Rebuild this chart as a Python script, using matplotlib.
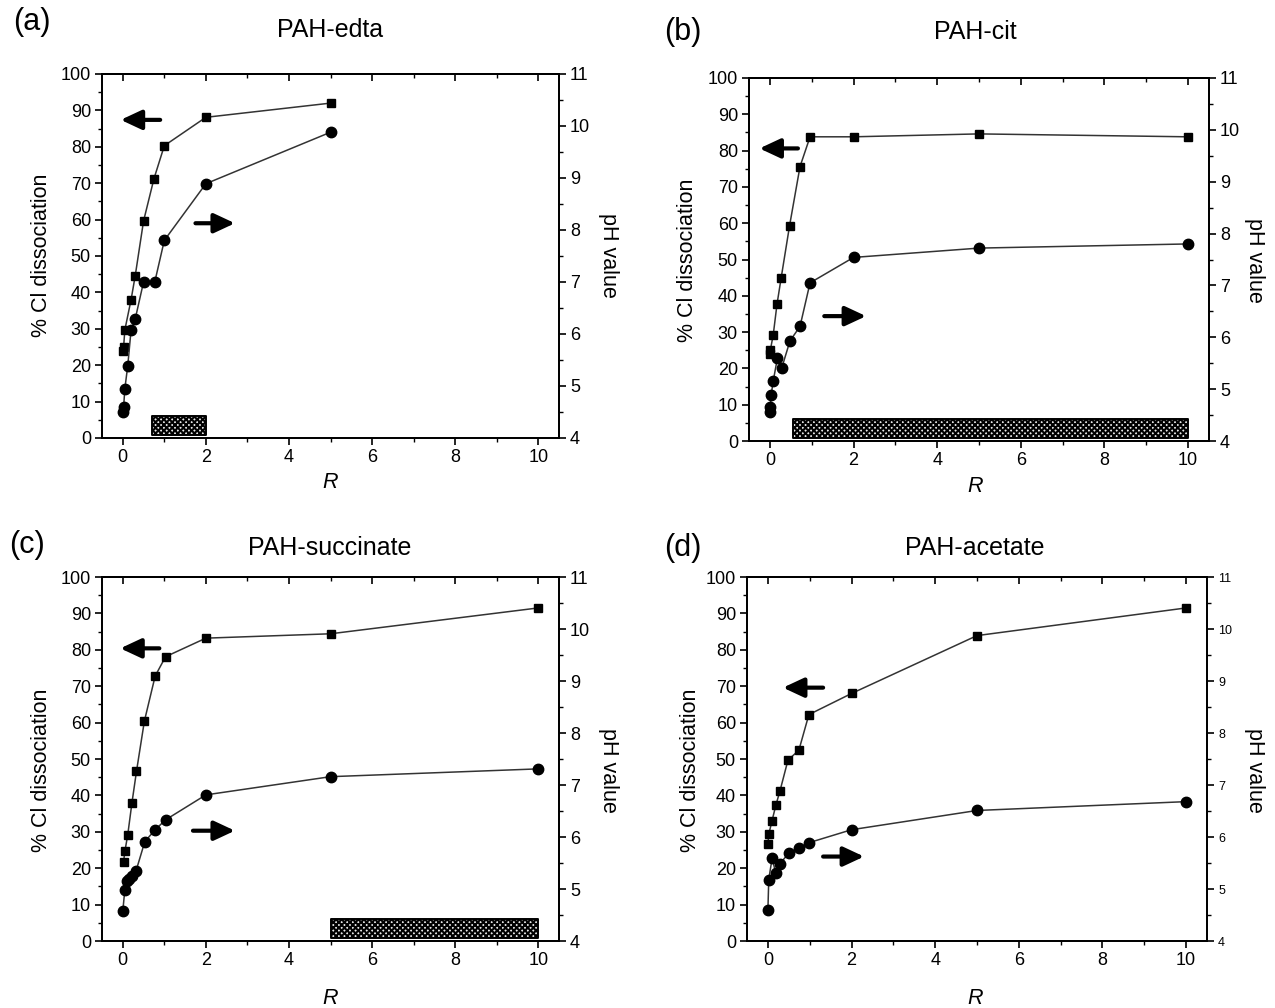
import matplotlib
matplotlib.use('Agg')
import matplotlib.pyplot as plt
from matplotlib.ticker import MultipleLocator

plt.rcParams['font.family'] = ['Liberation Sans', 'DejaVu Sans']
plt.rcParams['hatch.linewidth'] = 1.5
plt.rcParams['hatch.color'] = 'black'

# ---------------- data ----------------
# (a) PAH-edta
a_cl_x = [0, 0.02, 0.05, 0.2, 0.3, 0.5, 0.75, 1, 2, 5]
a_cl_y = [24, 25, 29.7, 38, 44.6, 59.6, 71.2, 80.3, 88.1, 92]
a_ph_x = [0, 0.02, 0.05, 0.12, 0.2, 0.3, 0.5, 0.77, 1, 2, 5]
a_ph_y = [4.50, 4.59, 4.95, 5.39, 6.08, 6.29, 7.00, 7.00, 7.80, 8.89, 9.88]
a_box = (0.7, 2.0)

# (b) PAH-cit
b_cl_x = [0, 0.01, 0.08, 0.17, 0.27, 0.47, 0.72, 0.96, 2, 5, 10]
b_cl_y = [24, 25, 29.3, 37.7, 45, 59.3, 75.6, 83.8, 83.8, 84.6, 83.8]
b_ph_x = [0, 0.01, 0.03, 0.08, 0.18, 0.28, 0.48, 0.72, 0.96, 2, 5, 10]
b_ph_y = [4.56, 4.66, 4.89, 5.16, 5.60, 5.40, 5.93, 6.21, 7.05, 7.54, 7.72, 7.80]
b_box = (0.55, 10.0)

# (c) PAH-succinate
c_cl_x = [0.02, 0.05, 0.12, 0.22, 0.33, 0.52, 0.78, 1.03, 2, 5, 10]
c_cl_y = [21.8, 24.6, 29.2, 37.9, 46.6, 60.4, 72.8, 78.1, 83.2, 84.4, 91.5]
c_ph_x = [0, 0.05, 0.1, 0.16, 0.22, 0.32, 0.53, 0.78, 1.03, 2, 5, 10]
c_ph_y = [4.57, 4.99, 5.16, 5.19, 5.25, 5.35, 5.91, 6.14, 6.33, 6.81, 7.16, 7.31]
c_box = (5.0, 10.0)

# (d) PAH-acetate
d_cl_x = [0, 0.02, 0.1, 0.19, 0.29, 0.48, 0.74, 0.98, 2, 5, 10]
d_cl_y = [26.6, 29.3, 33.1, 37.3, 41.3, 49.7, 52.4, 62.2, 68.0, 83.9, 91.5]
d_ph_x = [0, 0.02, 0.1, 0.19, 0.29, 0.5, 0.74, 0.98, 2, 5, 10]
d_ph_y = [4.59, 5.18, 5.59, 5.30, 5.49, 5.69, 5.78, 5.89, 6.14, 6.51, 6.68]
d_box = None

titles = ['PAH-edta', 'PAH-cit', 'PAH-succinate', 'PAH-acetate']
letters = ['(a)', '(b)', '(c)', '(d)']
box_y = (0.7, 6.0)

# ---------------- layout ----------------
W, H = 1275, 1008
fig = plt.figure(figsize=(W / 100, H / 100), dpi=100)

def frac(l, r, t, b):
    return [l / W, 1 - b / H, (r - l) / W, (b - t) / H]

panels = [
    dict(rect=frac(102, 559, 74, 438), cx=(a_cl_x, a_cl_y), px=(a_ph_x, a_ph_y), box=a_box,
         title=(330, 30), letter=(32, 22), ylab=(42, 255), phlab=(608, 255), rlab=(330, 482),
         arr_l=((0.9, 87.4), (-0.05, 87.4)), arr_r=((1.75, 59), (2.7, 59)), small=False),
    dict(rect=frac(749, 1209, 78, 441), cx=(b_cl_x, b_cl_y), px=(b_ph_x, b_ph_y), box=b_box,
         title=(975, 32), letter=(683, 32), ylab=(688, 260), phlab=(1255, 260), rlab=(975, 486),
         arr_l=((0.67, 80.6), (-0.25, 80.6)), arr_r=((1.3, 34.4), (2.3, 34.4)), small=False),
    dict(rect=frac(102, 559, 577, 941), cx=(c_cl_x, c_cl_y), px=(c_ph_x, c_ph_y), box=c_box,
         title=(330, 548), letter=(27, 545), ylab=(42, 770), phlab=(608, 770), rlab=(330, 998),
         arr_l=((0.88, 80.4), (-0.06, 80.4)), arr_r=((1.69, 30.3), (2.7, 30.3)), small=False),
    dict(rect=frac(747, 1207, 577, 941), cx=(d_cl_x, d_cl_y), px=(d_ph_x, d_ph_y), box=d_box,
         title=(975, 548), letter=(683, 548), ylab=(690, 770), phlab=(1255, 770), rlab=(975, 998),
         arr_l=((1.32, 69.6), (0.36, 69.6)), arr_r=((1.32, 23.2), (2.3, 23.2)), small=True),
]

LC = '#333333'
TICK_FS = 13

for p, title, letter in zip(panels, titles, letters):
    ax = fig.add_axes(p['rect'])
    ax2 = ax.twinx()
    ax.set_xlim(-0.5, 10.5)
    ax.set_ylim(0, 100)
    ax2.set_ylim(4, 11)

    # hatched bar
    if p['box'] is not None:
        ax.fill_between(list(p['box']), box_y[0], box_y[1], facecolor='#e8e8e8',
                        edgecolor='black', hatch='xxxxxx', linewidth=1.4, zorder=2)

    ax.plot(*p['cx'], color=LC, lw=1.1, marker='s', ms=6.3, mfc='black', mec='black', zorder=3)
    ax2.plot(*p['px'], color=LC, lw=1.1, marker='o', ms=7.5, mfc='black', mec='black', zorder=3)

    for (x0, y0), (x1, y1) in [p['arr_l'], p['arr_r']]:
        ax.annotate('', xy=(x1, y1), xytext=(x0, y0),
                    arrowprops=dict(arrowstyle='-|>,head_length=0.9,head_width=0.42',
                                    lw=3.0, color='black', shrinkA=0, shrinkB=0,
                                    mutation_scale=14), zorder=4)

    # ticks
    ax.xaxis.set_major_locator(MultipleLocator(2))
    ax.xaxis.set_minor_locator(MultipleLocator(1))
    ax.yaxis.set_major_locator(MultipleLocator(10))
    ax.yaxis.set_minor_locator(MultipleLocator(5))
    ax2.yaxis.set_major_locator(MultipleLocator(1))
    ax2.yaxis.set_minor_locator(MultipleLocator(0.5))
    ax.tick_params(axis='both', which='major', direction='out', length=5, width=1.2,
                   labelsize=TICK_FS, top=False, right=False, pad=3)
    ax.tick_params(axis='both', which='minor', direction='out', length=3, width=1.0,
                   top=False, right=False)
    ax2.tick_params(axis='y', which='major', direction='out', length=5, width=1.2,
                    labelsize=(9 if p['small'] else TICK_FS), pad=3)
    ax2.tick_params(axis='y', which='minor', direction='out', length=3, width=1.0)
    sec = ax.secondary_xaxis('top')
    sec.xaxis.set_major_locator(MultipleLocator(2))
    sec.xaxis.set_minor_locator(MultipleLocator(1))
    sec.tick_params(axis='x', which='major', direction='in', length=5, width=1.2, labeltop=False)
    sec.tick_params(axis='x', which='minor', direction='in', length=3, width=1.0)
    for s in list(ax.spines.values()) + list(ax2.spines.values()) + list(sec.spines.values()):
        s.set_linewidth(1.3)

    fig.text(p['title'][0] / W, 1 - p['title'][1] / H, title, fontsize=18,
             ha='center', va='center')
    fig.text(p['letter'][0] / W, 1 - p['letter'][1] / H, letter, fontsize=22,
             ha='center', va='center')
    fig.text(p['ylab'][0] / W, 1 - p['ylab'][1] / H, '% Cl dissociation', fontsize=15.5,
             ha='center', va='center', rotation=90)
    fig.text(p['phlab'][0] / W, 1 - p['phlab'][1] / H, 'pH value', fontsize=15.5,
             ha='center', va='center', rotation=270)
    fig.text(p['rlab'][0] / W, 1 - p['rlab'][1] / H, 'R', fontsize=15.5, style='italic',
             ha='center', va='center')

fig.savefig('out.png', dpi=100)
